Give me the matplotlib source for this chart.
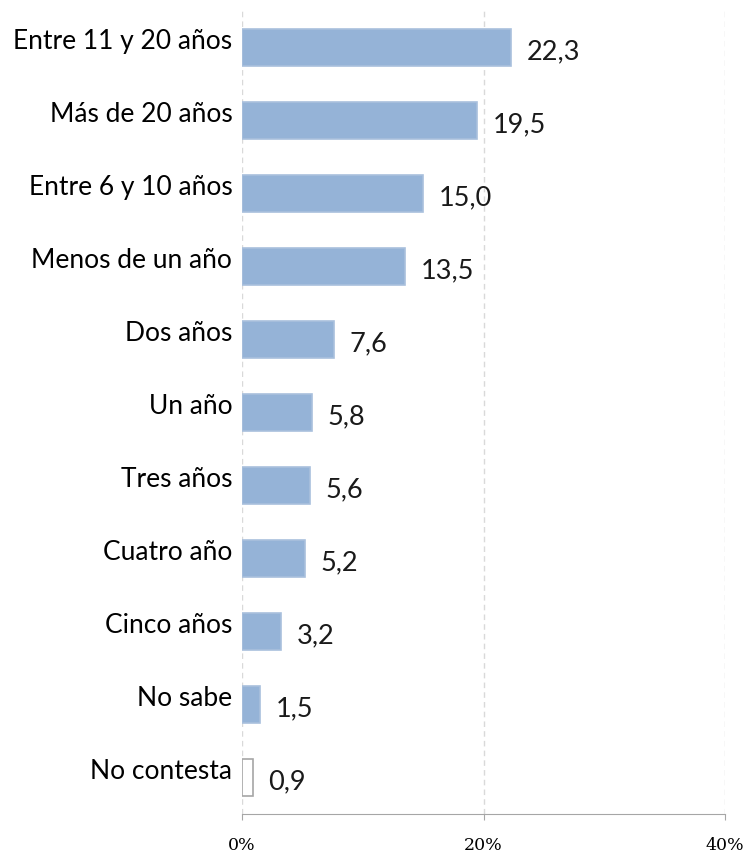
import matplotlib.pyplot as plt
from matplotlib.ticker import FuncFormatter

# Datos
categorias = ['Entre 11 y 20 años', 'Más de 20 años', 'Entre 6 y 10 años', 'Menos de un año',
              'Dos años', 'Un año', 'Tres años', 'Cuatro año', 'Cinco años', 'No sabe', 'No contesta']
valores = [22.3, 19.5, 15.0, 13.5, 7.6, 5.8, 5.6, 5.2, 3.2, 1.5, 0.9]
ticks_x = [0, 20, 40]

fig = plt.figure(figsize=(7.5, 8.54), dpi=100)
ax = fig.add_axes([0.3227, 0.0457, 0.644, 0.9403])

pos = list(range(len(categorias)))
colores = ['#95b3d7'] * (len(valores) - 1) + ['white']
bordes = ['#a9c0dd'] * (len(valores) - 1) + ['#a6a6a6']
ax.barh(pos, valores, height=0.5, color=colores, edgecolor=bordes, linewidth=1.2, zorder=2)

ax.set_xlim(0, 40)
ax.set_ylim(10.5, -0.5)

# Etiquetas de categorias y valores
for i, (cat, v) in enumerate(zip(categorias, valores)):
    ax.text(-0.8, i - 0.1, cat, ha='right', va='center', fontsize=19, family='Lato', color='black')
    ax.text(v + 1.3, i + 0.04, f'{v:.1f}'.replace('.', ','), ha='left', va='center',
            fontsize=19.5, family='Lato', color='#1a1a1a')

ax.set_yticks([])
ax.set_xticks(ticks_x)
ax.xaxis.set_major_formatter(FuncFormatter(lambda x, p: f'{x:.0f}%'))
for lbl in ax.get_xticklabels():
    lbl.set_family('DejaVu Serif')
    lbl.set_fontsize(12.5)
ax.tick_params(axis='x', length=4, color='#a6a6a6', pad=12)

ax.grid(axis='x', linestyle=(0, (4, 3)), color='#d9d9d9', linewidth=1, zorder=0)
for s in ['top', 'right', 'left']:
    ax.spines[s].set_visible(False)
ax.spines['bottom'].set_color('#a6a6a6')

plt.savefig('out.png', dpi=100)
